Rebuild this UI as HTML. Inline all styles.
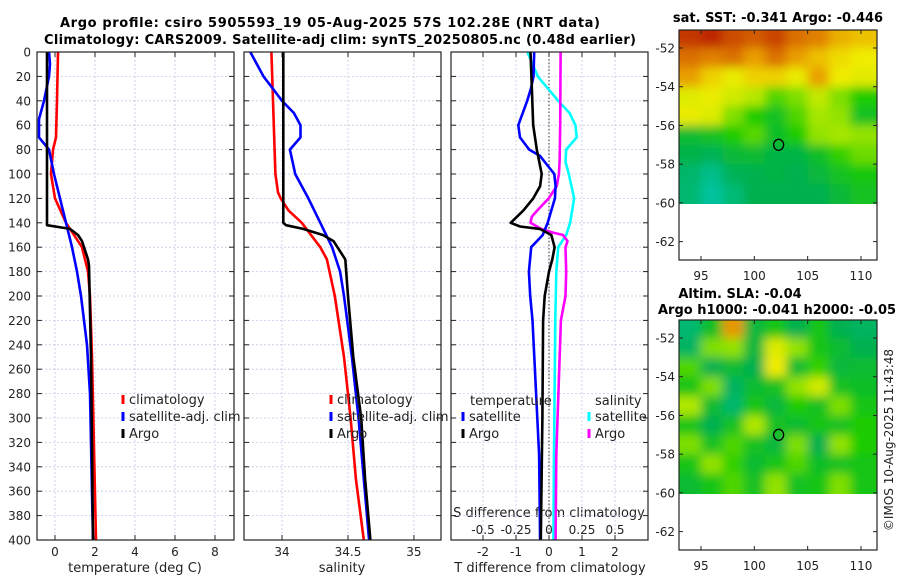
<!DOCTYPE html>
<html><head><meta charset="utf-8"><style>
html,body{margin:0;padding:0;background:#fff;}
svg{display:block;font-family:"DejaVu Sans","Liberation Sans",sans-serif;}
</style></head><body>
<svg id="fig" width="900" height="580" viewBox="0 0 900 580" xmlns="http://www.w3.org/2000/svg">
<defs>
<filter id="blur1" filterUnits="userSpaceOnUse" x="600" y="0" width="300" height="580"><feGaussianBlur stdDeviation="5"/></filter>
<clipPath id="clipM1"><rect x="679" y="30" width="198" height="174"/></clipPath>
<clipPath id="clipM2"><rect x="679" y="320" width="198" height="174"/></clipPath>
</defs>
<text x="330" y="27" text-anchor="middle" font-size="13" font-weight="bold" textLength="540">Argo profile: csiro 5905593_19 05-Aug-2025 57S 102.28E (NRT data)</text>
<text x="340" y="44" text-anchor="middle" font-size="13" font-weight="bold" textLength="592">Climatology: CARS2009. Satellite-adj clim: synTS_20250805.nc (0.48d earlier)</text>
<text x="778" y="22" text-anchor="middle" font-size="13" font-weight="bold">sat. SST: -0.341 Argo: -0.446</text>
<text x="740" y="298" text-anchor="middle" font-size="13" font-weight="bold">Altim. SLA: -0.04</text>
<text x="658" y="314" font-size="13" font-weight="bold">Argo h1000: -0.041 h2000: -0.05</text>
<text transform="translate(893,440) rotate(-90)" text-anchor="middle" font-size="12" fill="#222">©IMOS 10-Aug-2025 11:43:48</text>
<text x="135" y="572" text-anchor="middle" font-size="13" fill="#222">temperature (deg C)</text>
<text x="342" y="572" text-anchor="middle" font-size="13" fill="#222">salinity</text>
<text x="550" y="572" text-anchor="middle" font-size="13" fill="#222">T difference from climatology</text>
<text x="549" y="517" text-anchor="middle" font-size="13" fill="#222">S difference from climatology</text>
<g id="layer"></g>
</svg>
<script>
// ---- data: depths (m) and profile values ----
const depthArgoT = [0,60,142,145,150,155,170,175,250,400];
const argoT      = [-0.4,-0.4,-0.4,0.75,1.15,1.35,1.65,1.7,1.8,1.9];
const depthClimT = [0,40,70,80,100,120,140,160,180,200,250,400];
const climT      = [0.15,0.1,0.05,-0.1,-0.2,0,0.55,1.35,1.65,1.75,1.85,2.05];
const depthSatT  = [0,10,20,40,55,70,80,100,120,140,160,180,200,240,280,320,400];
const satT       = [-0.3,-0.25,-0.3,-0.55,-0.8,-0.8,-0.3,-0.05,0.25,0.55,0.85,1.1,1.3,1.6,1.75,1.8,1.9];

const depthArgoS = [0,140,142,145,150,155,170,200,250,300,350,400];
const argoS      = [34.01,34.01,34.03,34.16,34.31,34.39,34.48,34.5,34.54,34.6,34.63,34.67];
const depthClimS = [0,100,115,120,130,140,150,160,170,200,250,300,350,400];
const climS      = [33.92,33.95,33.97,33.99,34.05,34.15,34.22,34.29,34.34,34.4,34.47,34.52,34.56,34.62];
const depthSatS  = [0,20,30,40,50,60,70,80,90,100,120,140,160,180,200,250,300,350,400];
const satS       = [33.76,33.86,33.93,34.0,34.09,34.14,34.14,34.06,34.08,34.1,34.2,34.29,34.38,34.44,34.47,34.53,34.58,34.62,34.66];

const depthDArgoT = [0,60,80,100,110,120,130,140,143,145,150,160,170,180,200,220,300,400];
const dArgoT      = [-0.56,-0.48,-0.37,-0.22,-0.27,-0.48,-0.78,-1.16,-0.88,-0.28,0.07,0.17,0.1,0,-0.13,-0.18,-0.2,-0.25];
const depthDSatT  = [0,20,30,40,60,70,80,85,100,110,120,140,150,160,180,200,220,330,400];
const dSatT       = [-0.45,-0.47,-0.55,-0.66,-0.93,-0.88,-0.6,-0.28,0.16,0.2,0.18,-0.04,-0.19,-0.54,-0.61,-0.57,-0.5,-0.3,-0.27];
const depthDArgoS = [0,60,90,100,110,120,130,135,140,145,148,150,155,160,180,200,220,330,400];
const dArgoS      = [0.088,0.085,0.08,0.075,0.058,-0.002,-0.09,-0.13,-0.14,-0.06,0.03,0.106,0.14,0.125,0.13,0.125,0.09,0.055,0.05];
const depthDSatS  = [0,20,40,50,60,70,80,90,100,120,140,150,160,180,220,330,400];
const dSatS       = [-0.164,-0.085,0.07,0.155,0.2,0.21,0.13,0.125,0.15,0.19,0.16,0.13,0.07,0.055,0.048,0.038,0.033];

// tick labels
const depthTicks = [0,20,40,60,80,100,120,140,160,180,200,220,240,260,280,300,320,340,360,380,400];
const tTicks = [0,2,4,6,8];
const sTicks = [34,34.5,35];
const sTickLabels = ['34','34.5','35'];
const dTTicks = [-2,-1,0,1,2];
const dSTicks = [-0.5,-0.25,0,0.25,0.5];
const dSTickLabels = ['-0.5','-0.25','0','0.25','0.5'];
const latTicks = [-52,-54,-56,-58,-60,-62];
const lonTicks = [95,100,105,110];

// map grids (normalized colour value 0=teal .. 1=red), rows north->south
const lonEdges = [92.94,95,97,99,101,103,105,107,109,111.5];
const latEdges = [-51.07,-52,-53,-54,-55,-56,-57,-58,-59,-60.1];
const sstGrid = [
 [0.98,1.0,0.95,0.93,0.96,0.9,0.88,0.82,0.8],
 [0.9,0.88,0.9,0.84,0.9,0.84,0.8,0.77,0.75],
 [0.84,0.78,0.74,0.78,0.78,0.74,0.84,0.75,0.73],
 [0.72,0.74,0.7,0.66,0.55,0.6,0.68,0.6,0.5],
 [0.74,0.72,0.6,0.5,0.42,0.55,0.64,0.62,0.42],
 [0.38,0.42,0.5,0.56,0.4,0.5,0.62,0.64,0.62],
 [0.32,0.28,0.36,0.38,0.33,0.33,0.4,0.52,0.58],
 [0.22,0.12,0.28,0.3,0.33,0.3,0.35,0.42,0.47],
 [0.2,0.06,0.18,0.3,0.3,0.3,0.3,0.36,0.42]];
const slaGrid = [
 [0.2,0.4,0.85,0.35,0.45,0.3,0.45,0.3,0.25],
 [0.25,0.6,0.62,0.35,0.72,0.62,0.45,0.38,0.3],
 [0.55,0.3,0.38,0.3,0.75,0.38,0.52,0.35,0.38],
 [0.45,0.6,0.25,0.38,0.42,0.62,0.7,0.42,0.4],
 [0.65,0.38,0.22,0.45,0.35,0.5,0.42,0.6,0.45],
 [0.45,0.3,0.42,0.65,0.42,0.38,0.45,0.42,0.5],
 [0.6,0.42,0.55,0.42,0.35,0.6,0.3,0.62,0.5],
 [0.45,0.62,0.52,0.38,0.45,0.55,0.4,0.42,0.45],
 [0.38,0.45,0.55,0.42,0.62,0.42,0.45,0.6,0.45]];
const floatLon = 102.28, floatLat = -57;

const NS='http://www.w3.org/2000/svg';
const L=document.getElementById('layer');
function mk(tag,attrs,parent){const e=document.createElementNS(NS,tag);for(const k in attrs)e.setAttribute(k,attrs[k]);(parent||L).appendChild(e);return e;}

const Y0=52,Y1=540;
function yD(d){return Y0+d*(Y1-Y0)/400;}
const panels=[
 {name:'temperature',x0:37,x1:234,min:-0.9,max:8.95},
 {name:'salinity',x0:244,x1:441,min:33.712,max:35.205},
 {name:'difference',x0:451,x1:648,min:-2.97,max:3.0}];
function xF(p){return v=>p.x0+(v-p.min)*(p.x1-p.x0)/(p.max-p.min);}
const xT=xF(panels[0]), xS=xF(panels[1]), xDT=xF(panels[2]);
const xDS=v=>xDT(v*4);

function gridAndFrame(p,xticks,xfun,labels,showY){
  for(const d of depthTicks){
    let g=mk('line',{x1:p.x0,x2:p.x1,y1:yD(d),y2:yD(d),stroke:'#c4c8e8','stroke-width':0.8,'stroke-dasharray':'2,2'});
    
    
    let t1=mk('line',{x1:p.x0,x2:p.x0+5,y1:yD(d),y2:yD(d),stroke:'#222'});
    
    
    let t2=mk('line',{x1:p.x1-5,x2:p.x1,y1:yD(d),y2:yD(d),stroke:'#222'});
    
    
    if(showY){
      let lb=mk('text',{x:p.x0-6,y:yD(d)+4.5,'text-anchor':'end','font-size':12,fill:'#222'});
      lb.textContent=d;
      
      
    }
  }
  xticks.forEach((v,i)=>{
    const x=xfun(v);
    let g=mk('line',{x1:x,x2:x,y1:Y0,y2:Y1,stroke:'#c4c8e8','stroke-width':0.8,'stroke-dasharray':'2,2'});
    
    
    let t1=mk('line',{x1:x,x2:x,y1:Y1-5,y2:Y1,stroke:'#222'});
    
    
    let t2=mk('line',{x1:x,x2:x,y1:Y0,y2:Y0+5,stroke:'#222'});
    
    
    let lb=mk('text',{x:x,y:556,'text-anchor':'middle','font-size':12,fill:'#222'});
    lb.textContent=labels[i];
    
    
  });
}
gridAndFrame(panels[0],tTicks,xT,tTicks.map(String),true);
gridAndFrame(panels[1],sTicks,xS,sTickLabels,false);
gridAndFrame(panels[2],dTTicks,xDT,dTTicks.map(String),false);

let zl=mk('line',{x1:xDT(0),x2:xDT(0),y1:Y0,y2:Y1,stroke:'#333','stroke-width':1,'stroke-dasharray':'1.5,2'});



dSTicks.forEach((v,i)=>{
  let lb=mk('text',{x:xDS(v),y:534,'text-anchor':'middle','font-size':12,fill:'#222'});
  lb.textContent=dSTickLabels[i];
  
  
});

function line(depths,vals,xfun,color,name){
  const pts=depths.map((d,i)=>xfun(vals[i]).toFixed(1)+','+yD(d).toFixed(1)).join(' ');
  let e=mk('polyline',{points:pts,fill:'none',stroke:color,'stroke-width':2.6,'stroke-linejoin':'round'});
  
  
}
line(depthClimT,climT,xT,'#ff0000','climatology-temperature-line');
line(depthSatT,satT,xT,'#0000ff','satellite-temperature-line');
line(depthArgoT,argoT,xT,'#000000','argo-temperature-line');
line(depthClimS,climS,xS,'#ff0000','climatology-salinity-line');
line(depthSatS,satS,xS,'#0000ff','satellite-salinity-line');
line(depthArgoS,argoS,xS,'#000000','argo-salinity-line');
line(depthDSatS,dSatS,xDS,'#00ffff','satellite-s-diff-line');
line(depthDArgoS,dArgoS,xDS,'#ff00ff','argo-s-diff-line');
line(depthDSatT,dSatT,xDT,'#0000ff','satellite-t-diff-line');
line(depthDArgoT,dArgoT,xDT,'#000000','argo-t-diff-line');

panels.forEach(p=>{
  let f=mk('rect',{x:p.x0,y:Y0,width:p.x1-p.x0,height:Y1-Y0,fill:'none',stroke:'#222','stroke-width':1.2});
  
  
});

function legend(x,y,color,label,name){
  let m=mk('line',{x1:x,x2:x,y1:y-6,y2:y+3,stroke:color,'stroke-width':3});
  
  
  let t=mk('text',{x:x+6,y:y+3,'font-size':13,fill:'#222'});
  t.textContent=label;
  
  
}
legend(123,401,'#ff0000','climatology','legend-climatology-t');
legend(123,418,'#0000ff','satellite-adj. clim','legend-satellite-t');
legend(123,435,'#000000','Argo','legend-argo-t');
legend(331,401,'#ff0000','climatology','legend-climatology-s');
legend(331,418,'#0000ff','satellite-adj. clim','legend-satellite-s');
legend(331,435,'#000000','Argo','legend-argo-s');
let lt=mk('text',{x:470,y:405,'font-size':13,fill:'#222'});lt.textContent='temperature';


let ls=mk('text',{x:595,y:405,'font-size':13,fill:'#222'});ls.textContent='salinity';


legend(463,418,'#0000ff','satellite','legend-satellite-tdiff');
legend(463,435,'#000000','Argo','legend-argo-tdiff');
legend(589,418,'#00ffff','satellite','legend-satellite-sdiff');
legend(589,435,'#ff00ff','Argo','legend-argo-sdiff');

// ---- maps ----
const stops=[[0,[0,200,176]],[0.3,[0,176,80]],[0.5,[30,204,0]],[0.65,[176,232,0]],[0.75,[240,236,0]],[0.85,[232,150,0]],[1,[190,40,0]]];
function cmap(v){
  for(let i=1;i<stops.length;i++){if(v<=stops[i][0]){const a=stops[i-1],b=stops[i],t=(v-a[0])/(b[0]-a[0]);
    const c=a[1].map((q,j)=>Math.round(q+(b[1][j]-q)*t));return 'rgb('+c.join(',')+')';}}
  return 'rgb(190,40,0)';
}
function drawMap(top,grid,clip,name){
  const mx0=679,mx1=877;
  const lonX=lon=>mx0+(lon-92.94)*(mx1-mx0)/(111.5-92.94);
  const latY=lat=>top+(-51.07-lat)*(230)/(62.95-51.07);
  const gc=mk('g',{'clip-path':'url(#'+clip+')'});
  
  
  const g=mk('g',{filter:'url(#blur1)'},gc);
  grid.forEach((row,r)=>row.forEach((v,c)=>{
    const x0=lonX(lonEdges[c]),x1=lonX(lonEdges[c+1]),y0=latY(latEdges[r]),y1=latY(latEdges[r+1]);
    const ex0=c===0?x0-12:x0, ex1=c===row.length-1?x1+12:x1, ey0=r===0?y0-12:y0, ey1=r===grid.length-1?y1+12:y1;
    let cell=mk('rect',{x:ex0,y:ey0,width:ex1-ex0+0.5,height:ey1-ey0+0.5,fill:cmap(v)},g);
    
    
  }));
  let f=mk('rect',{x:mx0,y:top,width:mx1-mx0,height:230,fill:'none',stroke:'#222','stroke-width':1.2});
  
  
  latTicks.forEach(lat=>{
    const y=latY(lat);
    let t=mk('line',{x1:mx0,x2:mx0+4,y1:y,y2:y,stroke:'#222'});
    
    
    let t2=mk('line',{x1:mx1-4,x2:mx1,y1:y,y2:y,stroke:'#222'});
    
    
    let lb=mk('text',{x:mx0-4,y:y+4.5,'text-anchor':'end','font-size':12,fill:'#222'});
    lb.textContent=lat;
    
    
  });
  lonTicks.forEach(lon=>{
    const x=lonX(lon);
    let t=mk('line',{x1:x,x2:x,y1:top+226,y2:top+230,stroke:'#222'});
    
    
    let t2=mk('line',{x1:x,x2:x,y1:top,y2:top+4,stroke:'#222'});
    
    
    let lb=mk('text',{x:x,y:top+250,'text-anchor':'middle','font-size':12,fill:'#222'});
    lb.textContent=lon;
    
    
  });
  let c=mk('ellipse',{cx:lonX(floatLon),cy:latY(floatLat),rx:5,ry:5.5,fill:'none',stroke:'#000','stroke-width':1.3});
  
  
}
drawMap(30,sstGrid,'clipM1','sst-map');
drawMap(320,slaGrid,'clipM2','sla-map');
</script>
</body></html>
